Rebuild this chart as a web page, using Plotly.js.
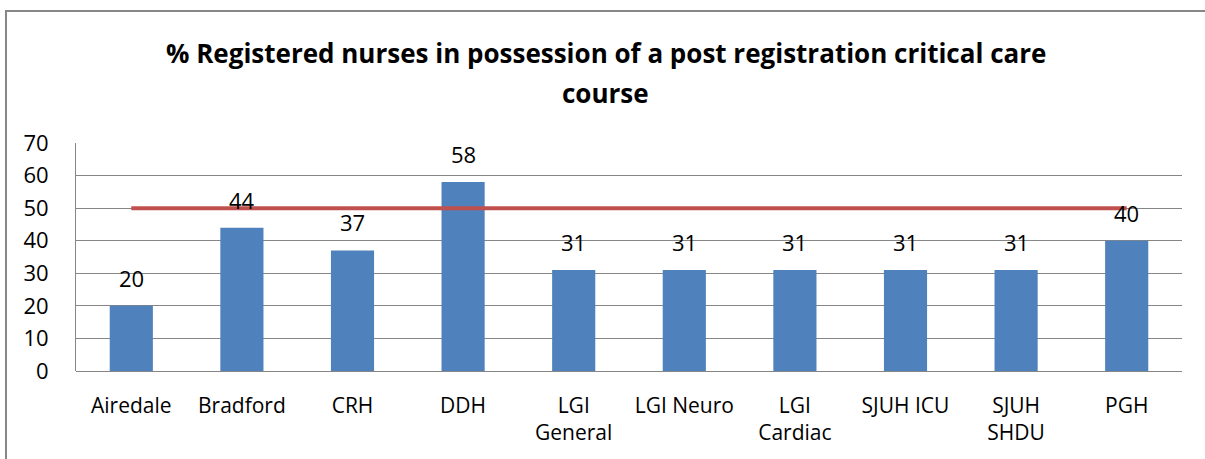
<!DOCTYPE html>
<html>
<head>
<meta charset="utf-8">
<script src="https://cdn.plot.ly/plotly-3.0.1.min.js"></script>
<style>
  html, body { margin: 0; padding: 0; background: #ffffff; }
  #chart { width: 1205px; height: 459px; }
</style>
</head>
<body>
<div id="chart"></div>
<script>
const categories = ["Airedale", "Bradford", "CRH", "DDH", "LGI<br>General", "LGI Neuro", "LGI<br>Cardiac", "SJUH ICU", "SJUH<br>SHDU", "PGH"];
const percentValues = [20, 44, 37, 58, 31, 31, 31, 31, 31, 40];
const targetValues = [50, 50, 50, 50, 50, 50, 50, 50, 50, 50];
const titleLines = ["% Registered nurses in possession of a post registration critical care", "course"];
const yTicks = [0, 10, 20, 30, 40, 50, 60, 70];

const FONT = "'Open Sans', 'Liberation Sans', sans-serif";

const bars = {
  type: "bar",
  x: categories,
  y: percentValues,
  marker: { color: "#4F81BD" },
  hoverinfo: "skip",
  showlegend: false
};

const target = {
  type: "scatter",
  mode: "lines",
  x: categories,
  y: targetValues,
  line: { color: "#C0504D", width: 4 },
  hoverinfo: "skip",
  showlegend: false
};

const labelAnnotations = categories.map((c, i) => ({
  x: c, y: percentValues[i], xref: "x", yref: "y",
  text: String(percentValues[i]),
  showarrow: false, yanchor: "bottom", yshift: 11,
  font: { family: FONT, size: 22, color: "#000000" }
}));

const titleAnnotations = titleLines.map((t, i) => ({
  x: 0.4792, xref: "paper", y: i === 0 ? 1.395 : 1.218, yref: "paper",
  text: "<b>" + t + "</b>", showarrow: false,
  xanchor: "center", yanchor: "middle",
  font: { family: FONT, size: 26, color: "#000000" }
}));

const layout = {
  width: 1205, height: 459,
  margin: { l: 76, r: 23, t: 143, b: 88 },
  paper_bgcolor: "#ffffff",
  plot_bgcolor: "#ffffff",
  bargap: 0.61,
  font: { family: FONT, size: 22, color: "#000000" },
  xaxis: {
    type: "category",
    showgrid: false,
    showline: false,
    zeroline: false,
    ticks: "",
    ticklabelstandoff: 20,
    tickfont: { family: FONT, size: 21, color: "#000000" },
    fixedrange: true
  },
  yaxis: {
    range: [0, 70],
    tickvals: yTicks,
    ticktext: yTicks.map(String),
    showgrid: true,
    gridcolor: "#868686",
    gridwidth: 1,
    showline: true,
    linecolor: "#868686",
    linewidth: 1,
    zeroline: true,
    zerolinecolor: "#868686",
    zerolinewidth: 1,
    ticks: "",
    ticklabelstandoff: 22,
    tickfont: { family: FONT, size: 22, color: "#000000" },
    fixedrange: true
  },
  annotations: titleAnnotations.concat(labelAnnotations),
  shapes: [{
    type: "rect", xref: "paper", yref: "paper",
    x0: -0.0633, x1: 1.03, y0: -0.45, y1: 1.579,
    line: { color: "#878787", width: 2 },
    fillcolor: "rgba(0,0,0,0)",
    layer: "above"
  }]
};

Plotly.newPlot("chart", [bars, target], layout, { staticPlot: true, displayModeBar: false });
</script>
</body>
</html>
